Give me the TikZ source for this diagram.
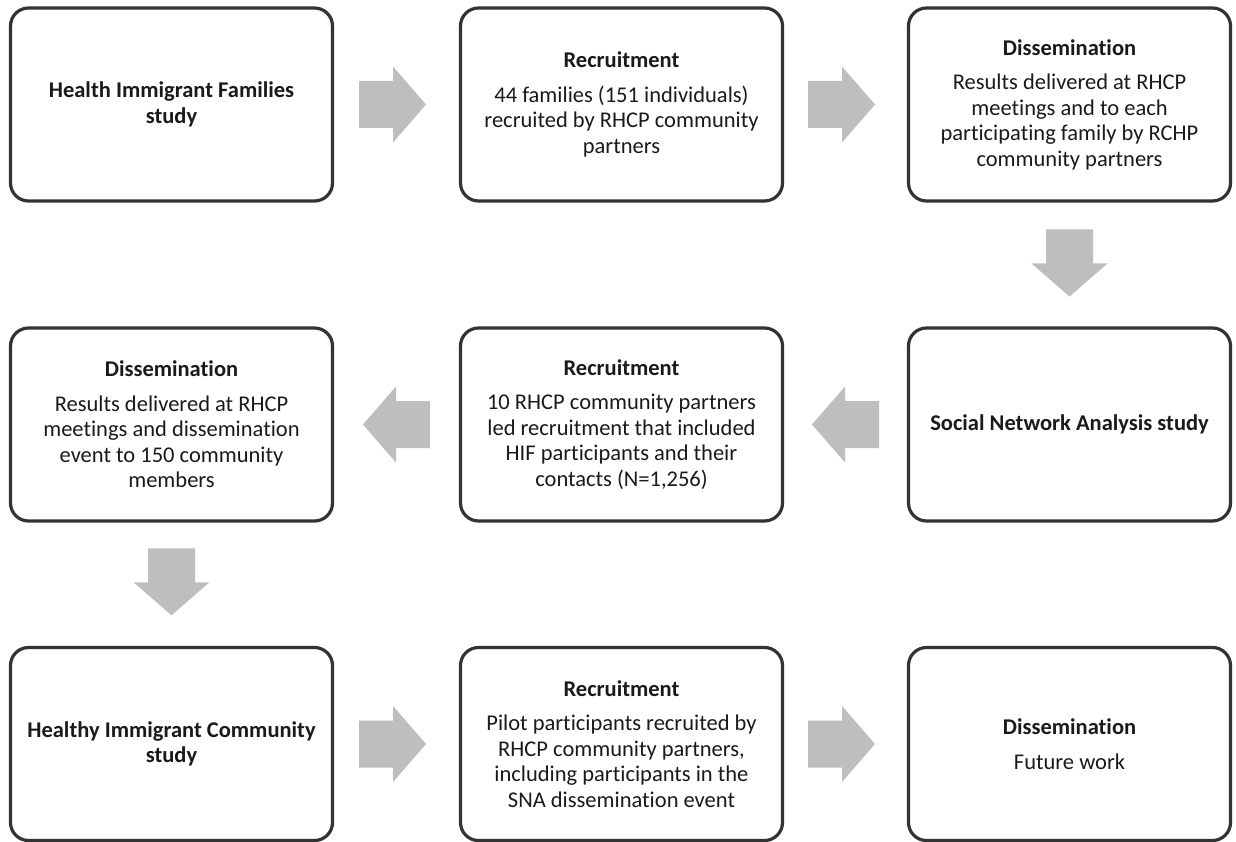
\documentclass[tikz,border=0pt]{standalone}
\usepackage{fontspec}
\setmainfont[Ligatures=CommonOff]{Carlito}
\usetikzlibrary{calc}
\definecolor{boxline}{HTML}{333333}
\definecolor{arrowfill}{HTML}{BEBEBE}
\definecolor{txt}{HTML}{1A1A1A}
\tikzset{
  stagebox/.style={draw=boxline, line width=3.2pt, rounded corners=18pt, fill=white,
    minimum width=322pt, minimum height=193pt, inner sep=0pt, align=center,
    text=txt, font=\fontsize{22.5}{25.5}\selectfont},
  blockarrow/.pic={\fill[arrowfill] (-33.5,-23.5) -- (0.5,-23.5) -- (0.5,-38) -- (33.5,0)
     -- (0.5,38) -- (0.5,23.5) -- (-33.5,23.5) -- cycle;}
}
\newcommand{\ttl}[1]{\textbf{#1}\\[9pt]}
\begin{document}
\begin{tikzpicture}[x=1pt,y=-1pt]
\useasboundingbox[fill=white] (0,0) rectangle (1236,842);
% row 1
\node[stagebox] (hif) at (171.5,104.5) {\textbf{Health Immigrant Families}\\\textbf{study}};
\node[stagebox] (rec1) at (621.5,104.5) {\ttl{Recruitment}44 families (151 individuals)\\recruited by RHCP community\\partners};
\node[stagebox] (dis1) at (1069.5,104.5) {\ttl{Dissemination}Results delivered at RHCP\\meetings and to each\\participating family by RCHP\\community partners};
% row 2
\node[stagebox] (sna) at (1069.5,424.5) {\textbf{Social Network Analysis study}};
\node[stagebox] (rec2) at (621.5,424.5) {\ttl{Recruitment}10 RHCP community partners\\led recruitment that included\\HIF participants and their\\contacts (N=1,256)};
\node[stagebox] (dis2) at (171.5,424.5) {\ttl{Dissemination}Results delivered at RHCP\\meetings and dissemination\\event to 150 community\\members};
% row 3
\node[stagebox] (hic) at (171.5,744) {\textbf{Healthy Immigrant Community}\\\textbf{study}};
\node[stagebox] (rec3) at (621.5,744) {\ttl{Recruitment}Pilot participants recruited by\\RHCP community partners,\\including participants in the\\SNA dissemination event};
\node[stagebox] (dis3) at (1069.5,744) {\ttl{Dissemination}Future work};
% arrows
\pic at ($(hif.east)!0.5!(rec1.west)+(-4,0)$) {blockarrow};
\pic at ($(rec1.east)!0.5!(dis1.west)+(-4,0)$) {blockarrow};
\pic[rotate=-90] at ($(dis1.south)!0.5!(sna.north)+(0,-1.5)$) {blockarrow};
\pic[rotate=180] at ($(sna.west)!0.5!(rec2.east)$) {blockarrow};
\pic[rotate=180] at ($(rec2.west)!0.5!(dis2.east)$) {blockarrow};
\pic[rotate=-90] at ($(dis2.south)!0.5!(hic.north)+(0,-2.5)$) {blockarrow};
\pic at ($(hic.east)!0.5!(rec3.west)+(-4,0)$) {blockarrow};
\pic at ($(rec3.east)!0.5!(dis3.west)+(-4,0)$) {blockarrow};
\end{tikzpicture}
\end{document}
